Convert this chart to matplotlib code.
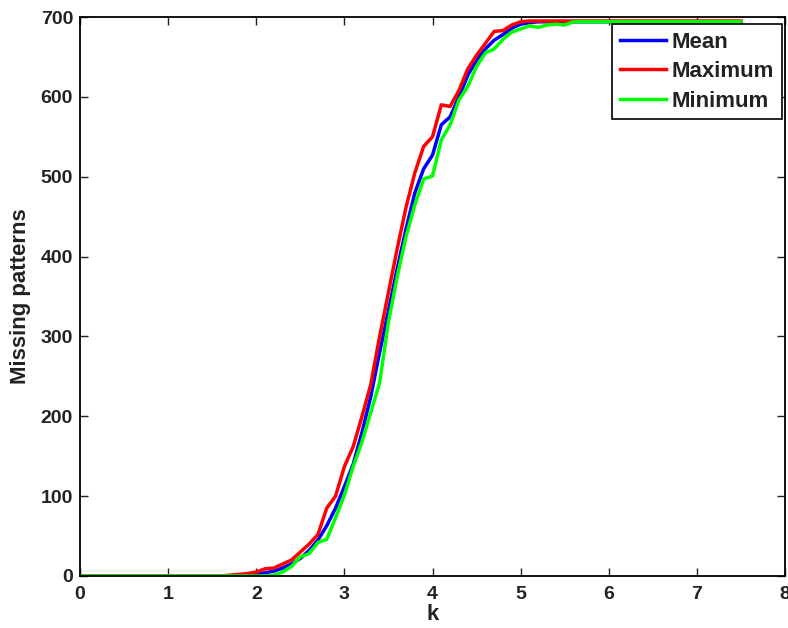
import numpy as np
import matplotlib
matplotlib.use("Agg")
import matplotlib.pyplot as plt

plt.rcParams['font.family'] = ['Liberation Sans', 'DejaVu Sans']
plt.rcParams['font.weight'] = 'bold'

# k from 0 to 7.5 in steps of 0.1
k = np.round(np.arange(0, 76) * 0.1, 1)

mean_vals = [0, 0, 0, 0, 0, 0, 0, 0, 0, 0, 0, 0, 0, 0, 0, 0, 0, 0,
             0.5, 1, 2, 4, 6, 10, 15, 22, 32, 45, 63, 85, 112, 140, 180, 225,
             280, 332, 385, 435, 480, 510, 527, 565, 575, 600, 627, 646, 660,
             671, 678, 686, 691, 693,
             694, 694, 694, 694, 694, 694, 694, 694, 694, 694, 694, 694,
             694, 694, 694, 694, 694, 694, 694, 694, 694, 694, 694, 694]

max_vals = [0, 0, 0, 0, 0, 0, 0, 0, 0, 0, 0, 0, 0, 0, 0, 0, 0,
            1, 2, 3, 5, 9, 10, 15, 20, 30, 40, 52, 85, 100, 137, 162, 200,
            240, 300, 355, 410, 462, 505, 538, 550, 590, 588, 608, 635, 652,
            667, 682, 683, 690, 694,
            695, 695, 695, 695, 695, 695, 695, 695, 695, 695, 695, 695, 695,
            695, 695, 695, 695, 695, 695, 695, 695, 695, 695, 695, 695]

min_vals = [0, 0, 0, 0, 0, 0, 0, 0, 0, 0, 0, 0, 0, 0, 0, 0, 0, 0, 0, 0, 0, 0,
            1, 5, 12, 24, 28, 42, 46, 73, 101, 137, 168, 205, 242, 318, 375,
            425, 465, 497, 501, 546, 565, 596, 613, 638, 655, 660, 672, 681,
            685, 689, 687, 690, 691, 690,
            694, 694, 694, 694, 694, 694, 694, 694, 694, 694,
            694, 694, 694, 694, 694, 694, 694, 694, 694, 694]

fig = plt.figure(figsize=(7.88, 6.28), dpi=100)
ax = fig.add_axes([80 / 788, 52 / 628, 705 / 788, 559 / 628])

ax.plot(k, mean_vals, color=(0, 0, 1), lw=2.5, label='Mean')
ax.plot(k, max_vals, color=(1, 0, 0), lw=2.5, label='Maximum')
ax.plot(k, min_vals, color=(0, 1, 0), lw=2.5, label='Minimum')

ax.set_xlim(0, 8)
ax.set_ylim(0, 700)
ax.set_xticks(range(0, 9))
ax.set_yticks(range(0, 701, 100))
ax.tick_params(direction='in', top=True, right=True, length=6, width=1,
               labelsize=14, pad=5, colors='#222222')
ax.tick_params(axis='x', pad=7)
for sp in ax.spines.values():
    sp.set_linewidth(1.3)

ax.set_xlabel('k', fontsize=16, fontweight='bold', labelpad=1, color='#222222')
ax.set_ylabel('Missing patterns', fontsize=16, fontweight='bold', labelpad=7,
              color='#222222')

leg = ax.legend(loc='upper right', bbox_to_anchor=(782 / 788, 604 / 628),
                bbox_transform=fig.transFigure, fancybox=False,
                edgecolor='black', framealpha=1, fontsize=16,
                handlelength=2.1, handletextpad=0.25, borderpad=0.35,
                labelspacing=0.38, borderaxespad=0)
leg.get_frame().set_linewidth(1.2)
for t in leg.get_texts():
    t.set_color('#222222')

fig.savefig('out.png', dpi=100)
